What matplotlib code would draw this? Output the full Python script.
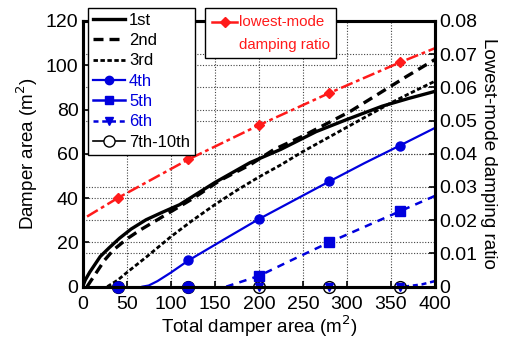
import matplotlib
matplotlib.use("Agg")
import matplotlib.pyplot as plt
from matplotlib.lines import Line2D
from matplotlib.patches import Rectangle

plt.rcParams['font.family'] = ['Liberation Sans', 'DejaVu Sans']

# ---- data ----
x_1st = [0, 3, 8, 20, 30, 42, 55, 72, 90, 110, 130, 150, 170, 190, 225, 265, 300, 340, 370, 400]
y_1st = [0, 3, 6.5, 13.6, 17.5, 21.9, 26, 30.2, 33.5, 37, 42, 47, 51.5, 56, 62, 70, 75.5, 81.5, 85, 88.2]

x_2nd = [5, 15, 25, 35, 50, 65, 84, 105, 126, 156, 190, 217, 250, 304, 368, 400]
y_2nd = [0, 6, 12, 16.6, 21.5, 25.5, 30, 35, 40, 48, 55, 61.9, 68, 79.2, 95, 102.6]

x_3rd = [28, 40, 50, 73, 100, 125, 150, 175, 200, 225, 250, 275, 300, 325, 350, 375, 400]
y_3rd = [0, 3, 6.3, 13.6, 22.5, 30, 37, 43.5, 49.5, 55, 61, 66.5, 72, 77.5, 83, 88, 92.8]

x_4th = [68, 75, 85, 100, 120, 160, 200, 240, 280, 320, 360, 400]
y_4th = [0, 0.5, 2.5, 6.3, 11.8, 21.2, 30.5, 39, 47.5, 55.8, 63.7, 71.7]

x_5th = [163, 200, 240, 280, 320, 360, 400]
y_5th = [0, 4.8, 12.5, 20, 27, 34, 41]

x_6th = [365, 385, 400]
y_6th = [0, 1, 2.5]

# marker positions (total damper area)
x_mk = [40, 120, 200, 280, 360]
mk_4th = [0, 11.8, 30.5, 47.5, 63.7]
x_mk5 = [200, 280, 360]
mk_5th = [4.8, 20, 34]
x_mk_zero_blue = [40, 120]
mk_zero_blue = [0, 0]
x_mk6 = [200, 280, 360]
mk_6th = [0, 0, 0]
mk_7to10 = [0, 0, 0, 0, 0]

x_damp = [5, 40, 120, 200, 280, 360, 400]
y_damp = [0.0211, 0.0267, 0.0383, 0.0486, 0.0583, 0.0675, 0.0718]
x_damp_mk = [40, 120, 200, 280, 360]
y_damp_mk = [0.0267, 0.0383, 0.0486, 0.0583, 0.0675]

left_ticks = [0, 20, 40, 60, 80, 100, 120]
right_ticks = [0, 0.01, 0.02, 0.03, 0.04, 0.05, 0.06, 0.07, 0.08]
right_ticklabels = ['0', '0.01', '0.02', '0.03', '0.04', '0.05', '0.06', '0.07', '0.08']
x_ticks = [0, 50, 100, 150, 200, 250, 300, 350, 400]

legend_labels = ['1st', '2nd', '3rd', '4th', '5th', '6th', '7th-10th']
damp_label_lines = ['lowest-mode', 'damping ratio']

# ---- figure ----
W, H = 507, 338
fig = plt.figure(figsize=(W / 100, H / 100), dpi=100)
ax = fig.add_axes([0.163, 0.152, 0.695, 0.786])
ax2 = ax.twinx()

blue = '#0000dd'
red = '#ff1a1a'
gcol = '#444444'

ax.set_xlim(0, 400)
ax.set_ylim(0, 120)
ax2.set_ylim(0, 0.08)

gls = (0, (1, 1.5))
for v in left_ticks[1:-1]:
    ax.axhline(v, color=gcol, lw=0.8, ls=gls, zorder=0)
for v in right_ticks[1:-1]:
    ax.axhline(v * 1500, color=gcol, lw=0.8, ls=gls, zorder=0)
for v in x_ticks[1:-1]:
    ax.axvline(v, color=gcol, lw=0.8, ls=gls, zorder=0)

ls2 = (0, (3, 1.8))
ls3 = (0, (1.6, 0.9))
ax.plot(x_1st, y_1st, color='black', lw=2.4)
ax.plot(x_2nd, y_2nd, color='black', lw=2.4, ls=ls2)
ax.plot(x_3rd, y_3rd, color='black', lw=2.0, ls=ls3)
ax.plot(x_4th, y_4th, color=blue, lw=1.6)
ax.plot(x_5th, y_5th, color=blue, lw=1.8, ls=(0, (3, 2.5)))
ax.plot(x_6th, y_6th, color=blue, lw=1.8, ls=(0, (2, 1.5)))

ax.plot(x_mk, mk_7to10, ls='none', marker='o', ms=8.5, mfc='none', mec='black', mew=1.0, clip_on=False, zorder=5)
ax.plot(x_mk6, mk_6th, ls='none', marker='v', ms=6, color=blue, clip_on=False, zorder=6)
ax.plot(x_mk5, mk_5th, ls='none', marker='s', ms=7, color=blue, clip_on=False, zorder=6)
ax.plot(x_mk_zero_blue, mk_zero_blue, ls='none', marker='o', ms=8, color=blue, clip_on=False, zorder=6)
ax.plot(x_mk, mk_4th, ls='none', marker='o', ms=6.5, color=blue, clip_on=False, zorder=7)

dls = (0, (5, 1.5, 1.5, 1.5))
ax2.plot(x_damp, y_damp, color=red, lw=1.8, ls=dls)
ax2.plot(x_damp_mk, y_damp_mk, ls='none', marker='D', ms=5, color=red)

ax.set_xticks(x_ticks)
ax.set_yticks(left_ticks)
ax2.set_yticks(right_ticks)
ax2.set_yticklabels(right_ticklabels)

for a in (ax, ax2):
    for s in a.spines.values():
        s.set_linewidth(2.2)
    a.tick_params(direction='in', length=4, width=1.2, labelsize=14, pad=3)
ax.tick_params(axis='x', pad=7)

ax.set_xlabel('Total damper area (m$^2$)', fontsize=13.5, labelpad=0)
ax.set_ylabel('Damper area (m$^2$)', fontsize=13.5, labelpad=4)
ax2.set_ylabel('Lowest-mode damping ratio', fontsize=13.5, rotation=270, labelpad=14)

# left legend
handles = [
    Line2D([], [], color='black', lw=2.4),
    Line2D([], [], color='black', lw=2.4, ls=ls2),
    Line2D([], [], color='black', lw=2.0, ls=ls3),
    Line2D([], [], color=blue, lw=1.6, marker='o', ms=6),
    Line2D([], [], color=blue, lw=1.8, marker='s', ms=6),
    Line2D([], [], color=blue, lw=1.8, ls=(0, (2, 1.5)), marker='v', ms=6),
    Line2D([], [], color='black', lw=1.2, marker='o', ms=8, mfc='white', mec='black'),
]
colors = ['black', 'black', 'black', blue, blue, blue, 'black']
leg = fig.legend(handles, legend_labels, loc='upper left', bbox_to_anchor=(0.174, 0.977),
                 fontsize=12, frameon=True, fancybox=False, edgecolor='black',
                 framealpha=1, labelspacing=0.32, handlelength=1.9, handletextpad=0.25,
                 borderpad=0.3, borderaxespad=0)
leg.get_frame().set_linewidth(1.0)
for t, c in zip(leg.get_texts(), colors):
    t.set_color(c)
leg.set_zorder(20)

# right legend (drawn manually in figure pixels)
def fx(px):
    return px / W

def fy(py):
    return 1 - py / H

box = Rectangle((fx(205), fy(58)), fx(336) - fx(205), fy(8) - fy(58), transform=fig.transFigure,
                facecolor='white', edgecolor='black', lw=1.0, zorder=20)
fig.add_artist(box)
fig.add_artist(Line2D([fx(212), fx(237)], [fy(22), fy(22)], transform=fig.transFigure,
                      color=red, lw=1.8, zorder=21))
fig.add_artist(Line2D([fx(224.5)], [fy(22)], transform=fig.transFigure, ls='none',
                      marker='D', ms=5, color=red, zorder=22))
fig.text(fx(239), fy(22), damp_label_lines[0], color=red, fontsize=10.8, ha='left', va='center', zorder=22)
fig.text(fx(239), fy(45), damp_label_lines[1], color=red, fontsize=10.8, ha='left', va='center', zorder=22)

fig.savefig('out.png', dpi=100)
